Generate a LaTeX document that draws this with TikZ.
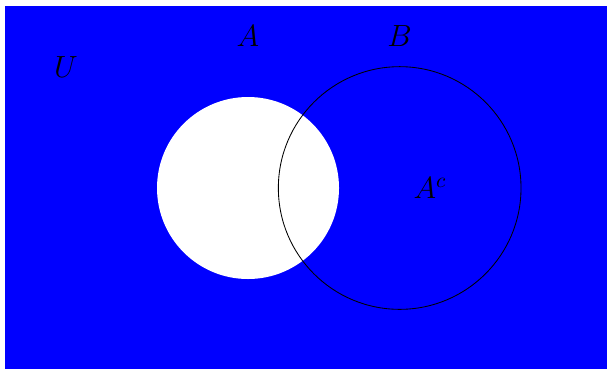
\documentclass[tikz,border=0pt]{standalone}
\usepackage{tikz}
\usetikzlibrary{positioning}

\begin{document}
\begin{tikzpicture}[
  set/.style={circle,inner sep=0pt},
  lab/.style={inner sep=1pt,font=\Large}]
\useasboundingbox (-4.088,-2.983) rectangle (5.917,3.099);
\fill[blue] (-4,-3) rectangle (6,3);
\node[set,fill=white,minimum size=3cm] (setA) at (0,0) {};
\node[set,draw=black,minimum size=4cm] (setB) at (2.5,0) {};
\node[lab] (labA) at (0,2.5) {$A$};
\node[lab] (labB) at (2.5,2.5) {$B$};
\node[lab] (labU) at (-3,2) {$U$};
\node[lab] (labAc) at (3,0) {$A^c$};
\end{tikzpicture}
\end{document}
